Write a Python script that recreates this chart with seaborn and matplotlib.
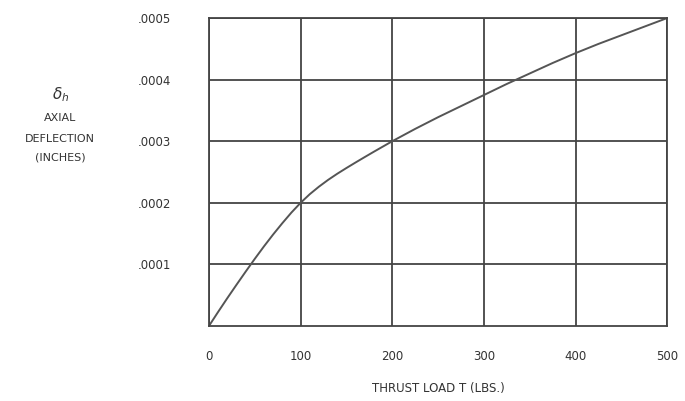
import matplotlib
matplotlib.use('AGG')
import matplotlib.pyplot as plt
import seaborn as sns
import pandas as pd

# valores
thrust_lbs = [0, 10, 20, 30, 40, 50, 60, 70, 80, 90, 100,
              110, 120, 130, 140, 150, 160, 170, 180, 190, 200,
              225, 250, 275, 300, 325, 350, 375, 400, 425, 450, 475, 500]
deflection_in = [0, 0.0000228, 0.0000451, 0.0000668, 0.0000881, 0.000109,
                 0.0001292, 0.0001485, 0.0001668, 0.0001842, 0.0002,
                 0.0002140, 0.0002262, 0.0002372, 0.0002472, 0.0002565,
                 0.0002655, 0.0002743, 0.0002830, 0.0002915, 0.0003,
                 0.000320, 0.000339, 0.000357, 0.000375, 0.000393, 0.000410,
                 0.000427, 0.000443, 0.000458, 0.000472, 0.000486, 0.0005]
x_ticks = [0, 100, 200, 300, 400, 500]
y_ticks = [0.0001, 0.0002, 0.0003, 0.0004, 0.0005]
y_tick_labels = ['.0001', '.0002', '.0003', '.0004', '.0005']

df = pd.DataFrame({'T': thrust_lbs, 'delta': deflection_in})

sns.set_style('white')
plt.rcParams['font.family'] = ['DejaVu Sans']

fig = plt.figure(figsize=(6.85, 4.01), dpi=100)
ax = fig.add_axes([0.305, 0.187, 0.669, 0.768])

sns.lineplot(data=df, x='T', y='delta', ax=ax, color='#555555', linewidth=1.4)

ax.set_xlim(0, 500)
ax.set_ylim(0, 0.0005)
ax.set_xticks(x_ticks)
ax.set_xticklabels([str(v) for v in x_ticks], fontsize=8.5)
ax.set_yticks(y_ticks)
ax.set_yticklabels(y_tick_labels, fontsize=8.5)
ax.tick_params(axis='x', length=0, pad=17, colors='#333333')
ax.tick_params(axis='y', length=0, pad=27, colors='#333333')
ax.grid(True, color='#444444', linewidth=1.3)
for s in ax.spines.values():
    s.set_color('#444444')
    s.set_linewidth(1.3)

ax.set_xlabel('THRUST LOAD T (LBS.)', fontsize=8.5, labelpad=14, color='#333333')
ax.set_ylabel('')

# etiqueta del eje y en varias líneas
fig.text(0.088, 0.763, r'$\delta_h$', fontsize=11, ha='center', va='center', color='#333333')
fig.text(0.088, 0.706, 'AXIAL', fontsize=8, ha='center', va='center', color='#333333')
fig.text(0.088, 0.653, 'DEFLECTION', fontsize=8, ha='center', va='center', color='#333333')
fig.text(0.088, 0.607, '(INCHES)', fontsize=8, ha='center', va='center', color='#333333')

plt.savefig('out.png', dpi=100)
plt.close()
